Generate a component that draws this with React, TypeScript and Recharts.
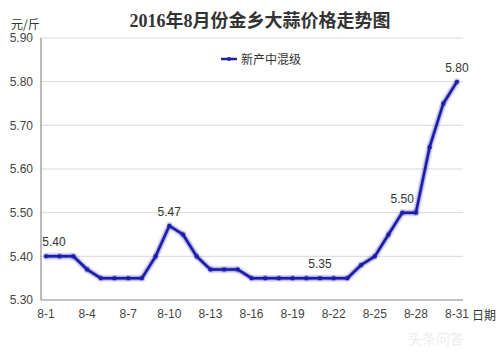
import { CartesianGrid, LabelList, Legend, Line, LineChart, XAxis, YAxis } from 'recharts';

const days = Array.from({ length: 31 }, (_, i) => `8-${i + 1}`);
const prices = [
  5.4, 5.4, 5.4, 5.37, 5.35, 5.35, 5.35, 5.35, 5.4, 5.47, 5.45, 5.4, 5.37, 5.37, 5.37, 5.35,
  5.35, 5.35, 5.35, 5.35, 5.35, 5.35, 5.35, 5.38, 5.4, 5.45, 5.5, 5.5, 5.65, 5.75, 5.8,
];
const labelledDays = ['8-1', '8-10', '8-21', '8-27', '8-31'];
const yTicks = [5.3, 5.4, 5.5, 5.6, 5.7, 5.8, 5.9];
const seriesName = '新产中混级';
const title = '2016年8月份金乡大蒜价格走势图';

const data = days.map((d, i) => ({ day: d, price: prices[i] }));

const LINE = '#1f1fa8';
const tickStyle = { fill: '#444', fontSize: 12, fontFamily: 'Liberation Sans, Arial, sans-serif' };

function PointLabel(props: any) {
  const { x, y, index } = props;
  if (!labelledDays.includes(days[index])) return null;
  const dx = index === 0 ? 8 : 0;
  return (
    <text
      x={x + dx}
      y={y - 14}
      textAnchor="middle"
      dominantBaseline="central"
      fill="#333"
      fontSize={12}
      fontFamily="Liberation Sans, Arial, sans-serif"
    >
      {prices[index].toFixed(2)}
    </text>
  );
}

function LegendContent() {
  return (
    <div style={{ display: 'flex', alignItems: 'center', fontSize: 12, color: '#333', fontFamily: 'Noto Sans CJK SC, sans-serif' }}>
      <svg width={16} height={10} style={{ marginRight: 4 }}>
        <line x1={0} y1={5} x2={16} y2={5} stroke={LINE} strokeWidth={2.5} />
        <circle cx={8} cy={5} r={2} fill={LINE} />
      </svg>
      {seriesName}
    </div>
  );
}

export default function App() {
  return (
    <div style={{ position: 'absolute', left: 0, top: 0, width: 500, height: 353, background: '#fff' }}>
      <div
        style={{
          position: 'absolute',
          left: 0,
          width: 520,
          top: 6,
          textAlign: 'center',
          fontSize: 18,
          fontWeight: 'bold',
          color: '#333',
          fontFamily: 'Liberation Serif, Noto Sans CJK SC, serif',
        }}
      >
        {title}
      </div>
      <div
        style={{
          position: 'absolute',
          left: 11,
          top: 18,
          fontSize: 12,
          lineHeight: '12px',
          color: '#333',
          fontFamily: 'Noto Sans CJK SC, sans-serif',
        }}
      >
        元/斤
      </div>
      <div style={{ position: 'absolute', left: 472, top: 306, fontSize: 12, color: '#333', fontFamily: 'Noto Sans CJK SC, sans-serif' }}>
        日期
      </div>
      <div style={{ position: 'absolute', left: 408, top: 328, fontSize: 14, color: '#ececec', fontFamily: 'Noto Sans CJK SC, sans-serif' }}>
        头条问答
      </div>
      <LineChart width={500} height={353} data={data} margin={{ top: 38, right: 37, bottom: 23, left: 0 }}>
        <defs>
          <filter id="glow" x="-5%" y="-20%" width="110%" height="140%">
            <feGaussianBlur in="SourceGraphic" stdDeviation="1.6" result="blur" />
            <feMerge>
              <feMergeNode in="blur" />
              <feMergeNode in="SourceGraphic" />
            </feMerge>
          </filter>
        </defs>
        <CartesianGrid vertical={false} stroke="#d9d9d9" />
        <XAxis
          dataKey="day"
          interval={2}
          padding={{ left: 5, right: 6 }}
          tickLine={false}
          tickSize={0}
          tickMargin={9}
          height={30}
          stroke="#999"
          tick={tickStyle}
        />
        <YAxis
          domain={[5.3, 5.9]}
          ticks={yTicks}
          tickFormatter={(v: number) => v.toFixed(2)}
          width={41}
          tickLine={false}
          tickSize={0}
          tickMargin={8}
          stroke="#777"
          tick={tickStyle}
        />
        <Legend
          verticalAlign="middle"
          align="center"
          layout="horizontal"
          content={<LegendContent />}
          wrapperStyle={{ top: 50, left: 221, width: 'auto' }}
        />
        <Line
          type="linear"
          dataKey="price"
          name={seriesName}
          stroke={LINE}
          strokeWidth={2.5}
          dot={{ r: 2, fill: LINE, stroke: LINE, strokeWidth: 0 }}
          activeDot={false}
          filter="url(#glow)"
          isAnimationActive={false}
        >
          <LabelList dataKey="price" content={<PointLabel />} />
        </Line>
      </LineChart>
    </div>
  );
}
